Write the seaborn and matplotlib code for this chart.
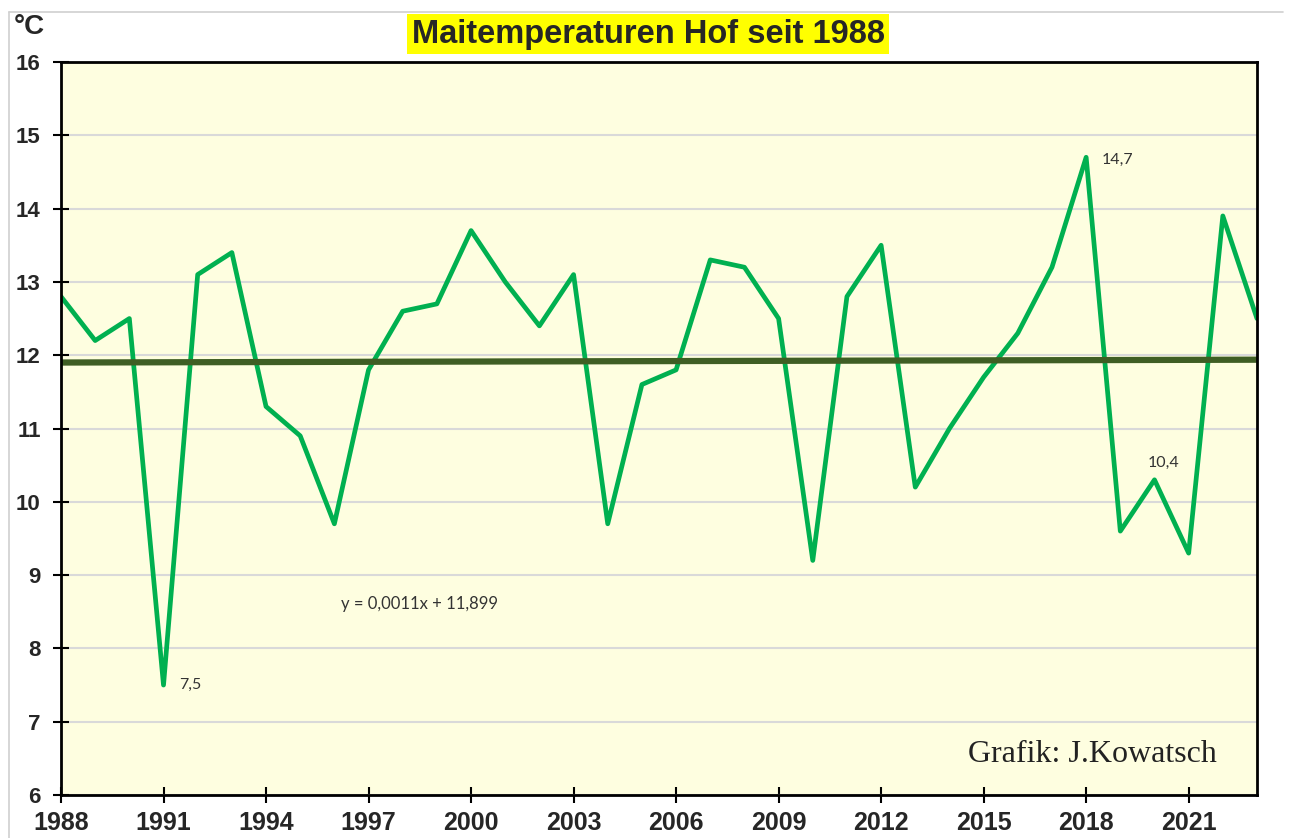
import numpy as np
import pandas as pd
import matplotlib.pyplot as plt
import seaborn as sns
from matplotlib.lines import Line2D

# Mai-Mitteltemperaturen Hof (°C)
years = list(range(1988, 2024))
temps = [12.8, 12.2, 12.5, 7.5, 13.1, 13.4, 11.3, 10.9, 9.7, 11.8,
         12.6, 12.7, 13.7, 13.0, 12.4, 13.1, 9.7, 11.6, 11.8, 13.3,
         13.2, 12.5, 9.2, 12.8, 13.5, 10.2, 11.0, 11.7, 12.3, 13.2,
         14.7, 9.6, 10.3, 9.3, 13.9, 12.5]

# lineare Trendlinie (Excel): y = 0,0011x + 11,899, x = 1..n
trend_slope = 0.0011
trend_intercept = 11.899
trend_label = "y = 0,0011x + 11,899"

xtick_years = list(range(1988, 2022, 3))
ytick_values = list(range(6, 17))

label_years = [1991, 2018, 2020]
label_texts = ["7,5", "14,7", "10,4"]

title = "Maitemperaturen Hof seit 1988"
credit = "Grafik: J.Kowatsch"

df = pd.DataFrame({"Jahr": years, "Temperatur": temps})
df["Trend"] = trend_slope * np.arange(1, len(df) + 1) + trend_intercept

sns.set_theme(style="white")
plt.rcParams["font.family"] = ["Liberation Sans", "DejaVu Sans"]

fig = plt.figure(figsize=(12.92, 8.38), dpi=100)
ax = fig.add_axes([61 / 1292, 43 / 838, 1196 / 1292, 733 / 838])
ax.set_facecolor("#fefee0")

sns.lineplot(data=df, x="Jahr", y="Temperatur", color="#00b050", lw=3.4, ax=ax)
sns.lineplot(data=df, x="Jahr", y="Trend", color="#3f5e24", lw=4.5, ax=ax)

ax.set_xlim(1988, 2023)
ax.set_ylim(6, 16)
ax.set_xticks(xtick_years)
ax.set_yticks(ytick_values)
ax.set_xlabel("")
ax.set_ylabel("")
ax.yaxis.grid(True, color="#d9d9d9", lw=1.5)
ax.set_axisbelow(True)

ax.tick_params(axis="both", direction="inout", length=11, width=1.5,
               color="black", bottom=True, left=True)
ax.tick_params(axis="y", pad=9, labelsize=16)
ax.tick_params(axis="x", pad=6)
for lab in ax.get_yticklabels():
    lab.set_fontweight("bold")
for lab in ax.get_xticklabels():
    lab.set_fontsize(18)
    lab.set_fontweight("bold")
for sp in ax.spines.values():
    sp.set_color("black")
    sp.set_linewidth(2)

# Datenbeschriftungen
offsets = [(11, 0), (11, -2), (-5, 12)]
for yr, txt, off in zip(label_years, label_texts, offsets):
    val = temps[years.index(yr)]
    ax.annotate(txt, (yr, val), xytext=off, textcoords="offset points",
                ha="left", va="center", fontsize=11.5, color="#333333",
                fontfamily=["Lato", "DejaVu Sans"])

ax.text(1996.2, 8.6, trend_label, fontsize=12, color="#333333",
        fontfamily=["Lato", "DejaVu Sans"], va="center")
ax.text(2014.55, 6.45, credit, fontsize=23, color="#222222",
        fontfamily=["Liberation Serif", "DejaVu Serif"], va="baseline")

fig.text(648 / 1292, 1 - 34 / 838, title, ha="center", va="center",
         fontsize=23.5, fontweight="bold",
         bbox=dict(facecolor="#ffff00", edgecolor="none", pad=3.5))
fig.text(14 / 1292, 1 - 27 / 838, "°C", ha="left", va="center",
         fontsize=20, fontweight="bold")

# heller Rahmen um die Grafik
fig.add_artist(Line2D([9 / 1292, 1283 / 1292], [1 - 12 / 838, 1 - 12 / 838],
                      color="#d0d0d0", lw=1.2))
fig.add_artist(Line2D([9 / 1292, 9 / 1292], [0, 1 - 12 / 838],
                      color="#d0d0d0", lw=1.2))

fig.savefig("out.png", dpi=100, facecolor="white")
